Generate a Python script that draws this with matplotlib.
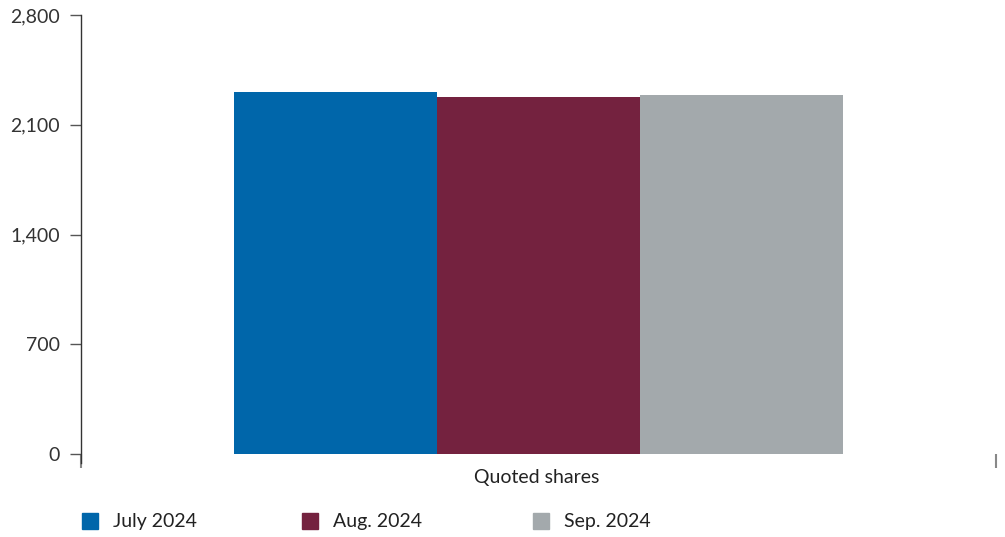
import matplotlib
matplotlib.use("Agg")
import matplotlib.pyplot as plt
from matplotlib.patches import Rectangle

categories = ["Quoted shares"]
series_names = ["July 2024", "Aug. 2024", "Sep. 2024"]
values = [2310, 2279, 2291]
colors = ["#0066AA", "#74223F", "#A3A9AC"]
yticks = [0, 700, 1400, 2100, 2800]
ytick_labels = ["0", "700", "1,400", "2,100", "2,800"]

plt.rcParams['font.family'] = ['Lato', 'DejaVu Sans']

W, H = 1005, 537
fig = plt.figure(figsize=(W / 100, H / 100), dpi=100)
ax = fig.add_axes([81 / W, 1 - 454 / H, (996 - 81) / W, (454 - 15) / H])

bw = 0.2215
for i, (name, v, c) in enumerate(zip(series_names, values, colors)):
    ax.bar(0 + (i - 1) * bw, v, width=bw, color=c, label=name)

ax.set_xlim(-0.5, 0.5)
ax.set_ylim(0, 2800)
ax.set_yticks(yticks)
ax.set_yticklabels(ytick_labels, fontsize=14, color="#333333")
ax.tick_params(axis="y", length=8, width=1, color="#555555", pad=7)

ax.set_xticks([-0.5, 0.5])
ax.set_xticklabels(["", ""])
ax.tick_params(axis="x", length=10, width=1.5, color="#888888")
ax.xaxis.set_ticks_position("bottom")

for s in ["top", "right", "bottom"]:
    ax.spines[s].set_visible(False)
ax.spines["left"].set_color("#333333")
ax.spines["left"].set_linewidth(1)
ax.spines["left"].set_bounds(-60, 2800)

fig.text(537 / W, 1 - 477 / H, categories[0], ha="center", va="center",
         fontsize=14, color="#222222")

# legend
leg_x = [82, 302, 533]
for name, c, lx in zip(series_names, colors, leg_x):
    fig.add_artist(Rectangle((lx / W, 1 - 529 / H), 16 / W, 16 / H,
                             transform=fig.transFigure, color=c))
    fig.text((lx + 31) / W, 1 - 521 / H, name, ha="left", va="center",
             fontsize=14, color="#222222")

fig.savefig("out.png", dpi=100)
